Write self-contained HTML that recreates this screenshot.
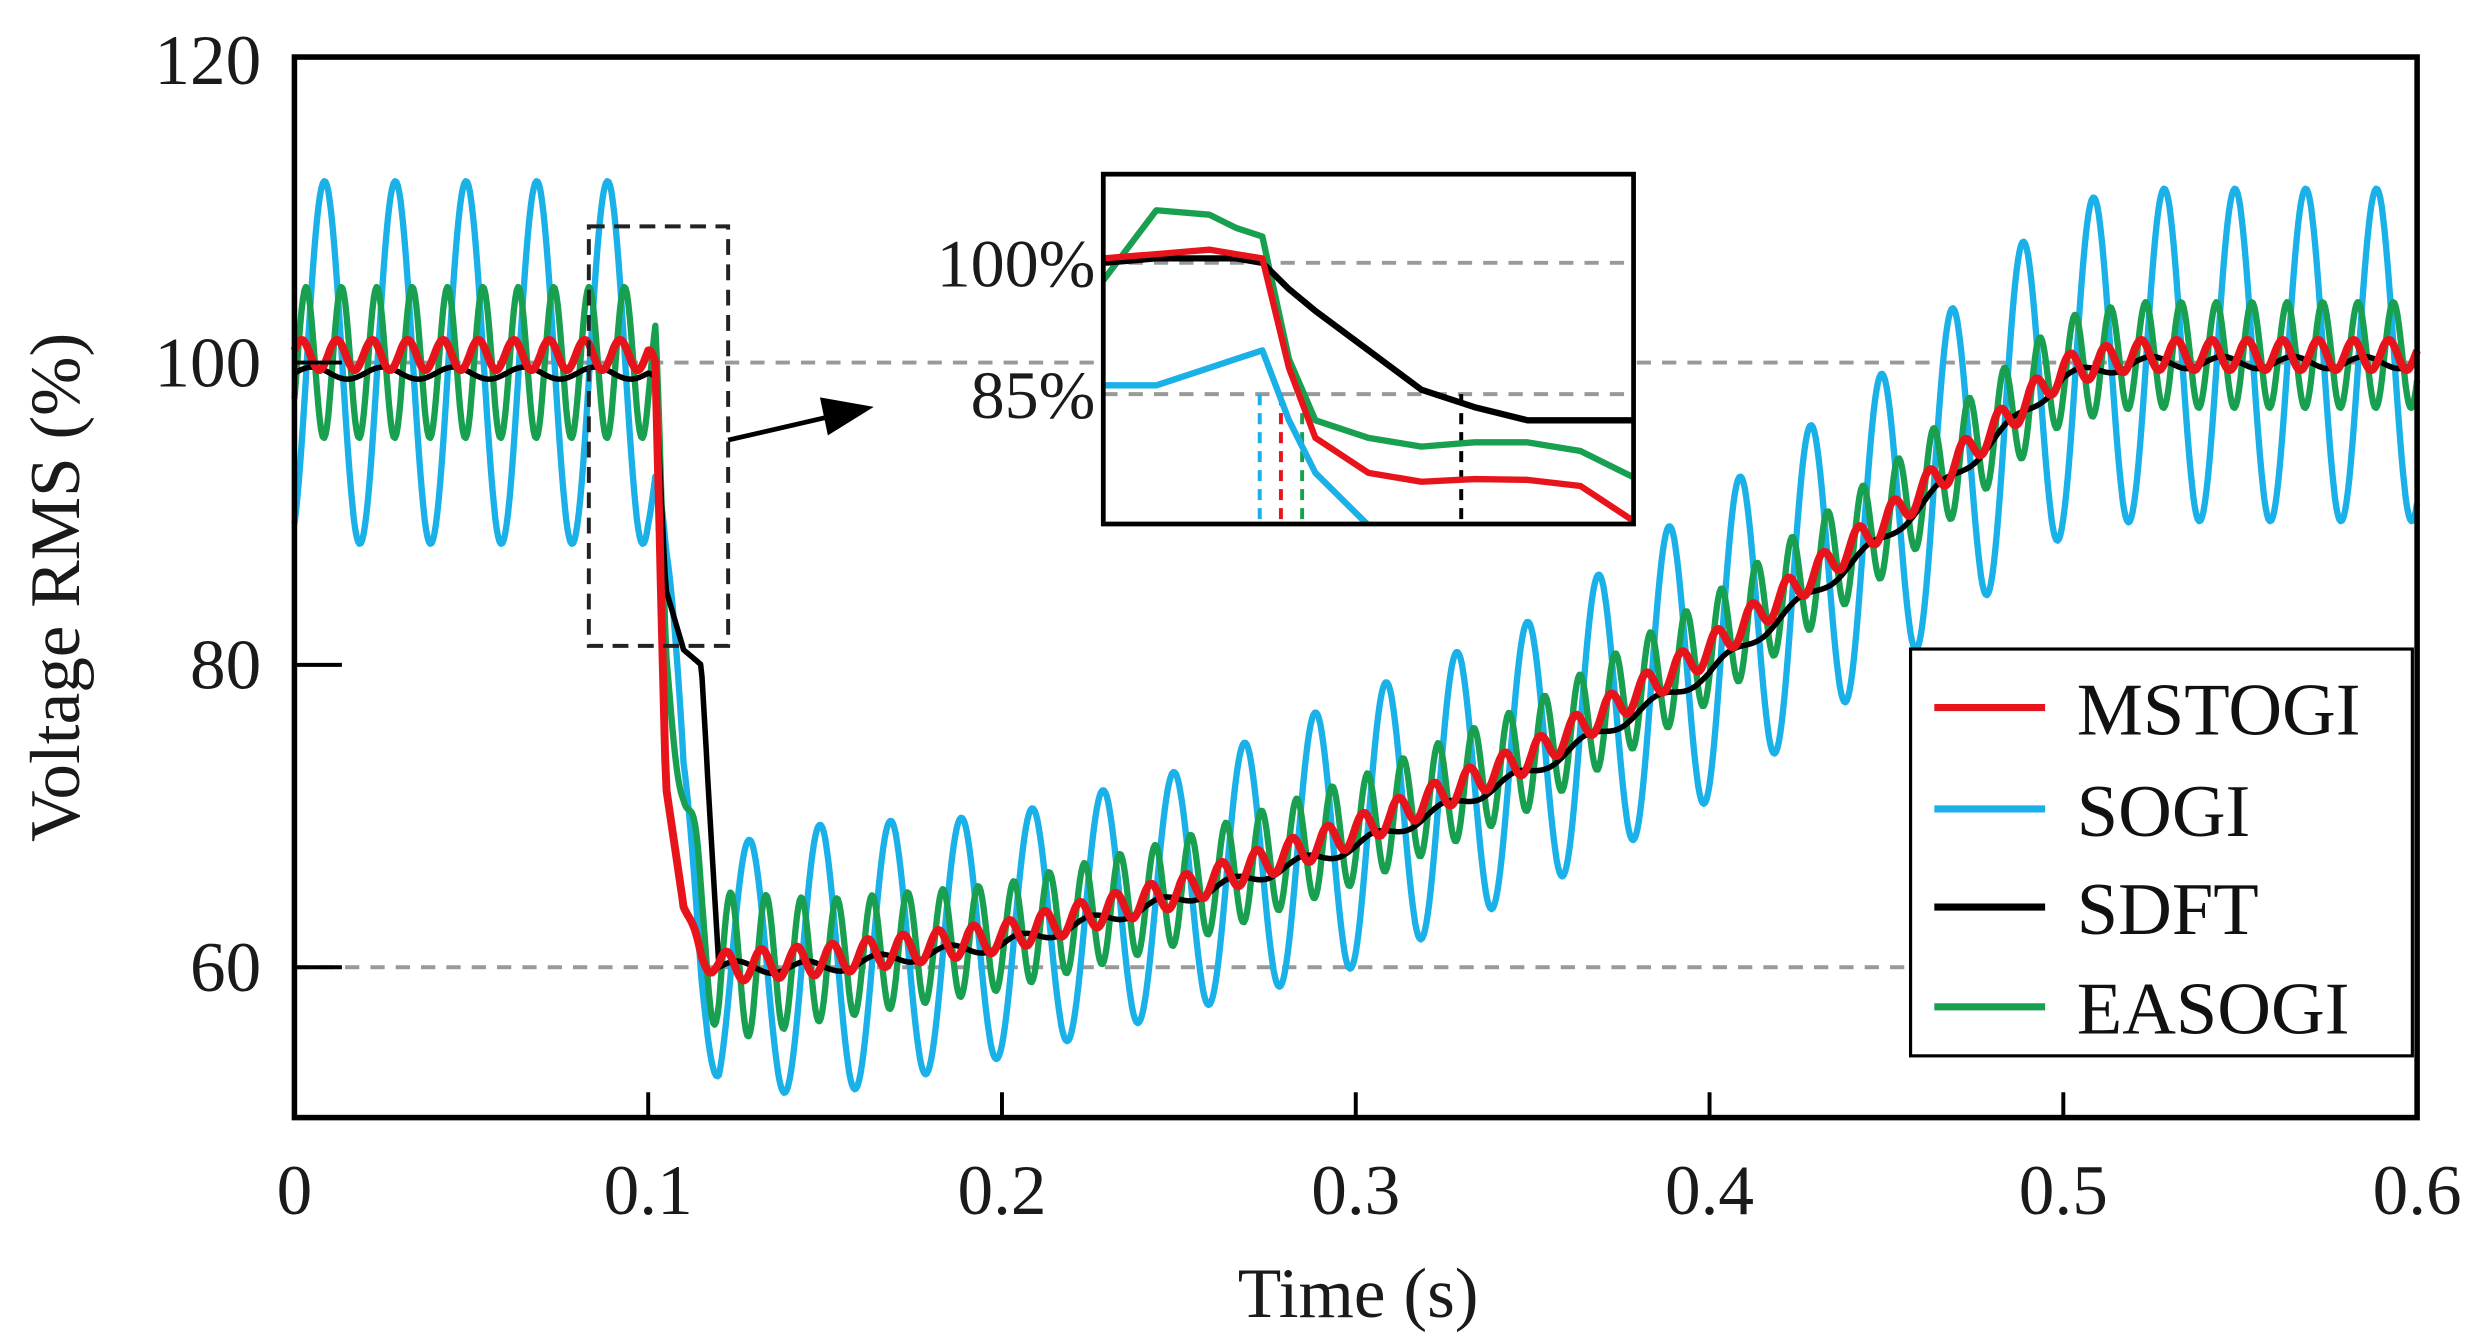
<!DOCTYPE html>
<html><head><meta charset="utf-8"><style>
html,body{margin:0;padding:0;background:#fff;}
svg{display:block;font-family:"Liberation Serif",serif;}
</style></head><body>
<svg id="chart" width="2482" height="1344" viewBox="0 0 1568 849" xmlns="http://www.w3.org/2000/svg">
<g id="grid"></g>
<g id="series"></g>
<rect x="186" y="36" width="1341" height="670" fill="none" stroke="#000" stroke-width="3.5"/>
<g id="axes"></g>
<text transform="translate(50,371) rotate(-90)" text-anchor="middle" font-size="45" fill="#1a1a1a">Voltage RMS (%)</text>
<text x="858" y="832" text-anchor="middle" font-size="45" fill="#1a1a1a">Time (s)</text>
<rect x="372" y="143" width="88" height="265" fill="none" stroke="#222" stroke-width="2.5" stroke-dasharray="10,6"/>
<line x1="460" y1="278" x2="525" y2="263" stroke="#000" stroke-width="3"/>
<polygon points="552,257 518,251 523,275" fill="#000"/>
<g id="inset"></g>
<g>
<rect x="1207" y="410" width="317" height="257" fill="#fff" stroke="#000" stroke-width="2"/>
<line x1="1222" y1="447" x2="1292" y2="447" stroke="#e8141c" stroke-width="4.5"/>
<text x="1312" y="464" font-size="47" fill="#111">MSTOGI</text>
<line x1="1222" y1="511" x2="1292" y2="511" stroke="#1ab0e8" stroke-width="4.5"/>
<text x="1312" y="528" font-size="47" fill="#111">SOGI</text>
<line x1="1222" y1="573" x2="1292" y2="573" stroke="#000" stroke-width="4.5"/>
<text x="1312" y="590" font-size="47" fill="#111">SDFT</text>
<line x1="1222" y1="636" x2="1292" y2="636" stroke="#18a050" stroke-width="4.5"/>
<text x="1312" y="653" font-size="47" fill="#111">EASOGI</text>
</g>
</svg>
<script>
// main chart data
const times   = [0, 0.1, 0.102, 0.105, 0.11, 0.115, 0.12, 0.15, 0.2, 0.25, 0.3, 0.35, 0.4, 0.45, 0.5, 0.52, 0.6];
const mstogiMean = [100.5, 100.5, 100, 72, 64, 61, 60, 60.5, 62, 65, 69, 74, 81, 89.5, 99.5, 100.5, 100.5];
const mstogiAmp  = [1, 1, 0, 0, 0, 0.8, 1, 1, 1, 1, 1, 1, 1, 1, 1, 1, 1];
const sogiMean   = [100, 100, 97, 85, 70, 62, 60, 60.5, 62, 65, 69, 74, 81, 89.5, 99.5, 100.5, 100.5];
const sogiAmp    = [12, 12, 10, 6, 4, 6, 8, 9, 8, 8, 9, 9, 10, 10, 11, 11, 11];
const sdftMean   = [99.3, 99.3, 99, 85, 81, 80, 60, 60, 61.5, 64.5, 68, 73, 79.5, 88.5, 99, 100, 100];
const sdftAmp    = [0.4, 0.4, 0, 0, 0, 0, 0.4, 0.4, 0.4, 0.4, 0.4, 0.4, 0.4, 0.4, 0.4, 0.4, 0.4];
const easogiMean = [100, 100, 99, 80, 72, 63, 60, 60.5, 62, 65, 69, 74, 81, 89.5, 99.5, 100.5, 100.5];
const easogiAmp  = [5, 5, 5, 2, 2, 4, 5, 4, 3.5, 3.5, 3.5, 3.5, 3.5, 3.5, 3.5, 3.5, 3.5];
const xTicks = [0, 0.1, 0.2, 0.3, 0.4, 0.5, 0.6];
const xTickLabels = ["0", "0.1", "0.2", "0.3", "0.4", "0.5", "0.6"];
const yTicks = [60, 80, 100, 120];
const yTickLabels = ["60", "80", "100", "120"];
const gridValues = [60, 100];
// inset data (x in inset units 0..100, y in %)
const insetX      = [0, 10, 20, 25, 30, 35, 40, 50, 60, 70, 80, 90, 100];
const insetMstogi = [100.5, 101, 101.5, 101, 100.5, 88, 80, 76, 75, 75.3, 75.2, 74.5, 70.5];
const insetSogi   = [86, 86, 88, 89, 90, 82, 76, 70, 65, 60, 55, 50, 45];
const insetSdft   = [100, 100.5, 100.5, 100.5, 100, 97, 94.5, 90, 85.5, 83.5, 82, 82, 82];
const insetEasogi = [98, 106, 105.5, 104, 103, 89, 82, 80, 79, 79.5, 79.5, 78.5, 75.5];
const insetMarks  = [29.5, 33.5, 37.5, 67.5];
const insetMarkColors = ["#1ab0e8", "#e8141c", "#18a050", "#000"];

const NS = "http://www.w3.org/2000/svg";
const X0 = 186, X1 = 1527, T0 = 0, T1 = 0.6;
const xs = t => X0 + (t - T0) / (T1 - T0) * (X1 - X0);
const ys = v => 611 - (v - 60) * 9.55;
function mk(tag, attrs, parent) { const e = document.createElementNS(NS, tag); for (const k in attrs) e.setAttribute(k, attrs[k]); parent.appendChild(e); return e; }
function interp(arrX, arrY, x) {
  for (let i = 0; i < arrX.length - 1; i++) if (x <= arrX[i + 1]) { const f = (x - arrX[i]) / (arrX[i + 1] - arrX[i]); return arrY[i] + f * (arrY[i + 1] - arrY[i]); }
  return arrY[arrY.length - 1];
}
const grid = document.getElementById("grid");
gridValues.forEach(v => {
  const l = mk("line", { x1: X0, x2: X1, y1: ys(v), y2: ys(v), stroke: "#999", "stroke-width": 2.5, "stroke-dasharray": "9,7" }, grid);
  
  
});
const axes = document.getElementById("axes");
xTicks.forEach((t, i) => {
  if (i > 0 && i < xTicks.length - 1) { const tk = mk("line", { x1: xs(t), x2: xs(t), y1: 706, y2: 690, stroke: "#000", "stroke-width": 2.5 }, axes);
    
     }
  const tx = mk("text", { x: xs(t), y: 767, "text-anchor": "middle", "font-size": 45, fill: "#1a1a1a" }, axes);
  tx.textContent = xTickLabels[i];
  
  
});
yTicks.forEach((v, i) => {
  if (v < 120) { const tk = mk("line", { x1: X0, x2: X0 + 30, y1: ys(v), y2: ys(v), stroke: "#000", "stroke-width": 2.5 }, axes);
    
     }
  const tx = mk("text", { x: 165, y: ys(v) + 15, "text-anchor": "end", "font-size": 45, fill: "#1a1a1a" }, axes);
  tx.textContent = yTickLabels[i];
  
  
});
const sg = document.getElementById("series");
function drawSeries(mean, amp, freq, phase, color, width, name) {
  let d = "";
  for (let t = 0; t <= 0.6 + 1e-9; t += 0.0004) {
    const v = interp(times, mean, t) + interp(times, amp, t) * Math.sin(2 * Math.PI * freq * t + phase);
    d += (d ? "L" : "M") + xs(t).toFixed(1) + "," + ys(v).toFixed(1);
  }
  const p = mk("path", { d: d, fill: "none", stroke: color, "stroke-width": width, "stroke-linejoin": "round" }, sg);
  
  
}
drawSeries(sogiMean, sogiAmp, 50, -1.1, "#1ab0e8", 4, "sogi-line");
drawSeries(easogiMean, easogiAmp, 100, -0.5, "#18a050", 4, "easogi-line");
drawSeries(sdftMean, sdftAmp, 50, 0, "#000", 3.5, "sdft-line");
drawSeries(mstogiMean, mstogiAmp, 100, 0.3, "#e8141c", 5, "mstogi-line");

// inset
const ig = document.getElementById("inset");
const IX0 = 697, IX1 = 1032, IY0 = 110, IY1 = 331;
const ixs = u => IX0 + u / 100 * (IX1 - IX0);
const iys = v => 166 + (100 - v) * 5.53;
mk("rect", { x: IX0, y: IY0, width: IX1 - IX0, height: IY1 - IY0, fill: "#fff" }, ig);
[100, 85].forEach(v => {
  const l = mk("line", { x1: IX0, x2: IX1, y1: iys(v), y2: iys(v), stroke: "#999", "stroke-width": 2.5, "stroke-dasharray": "9,7" }, ig);
  
  
});
insetMarks.forEach((u, i) => {
  const l = mk("line", { x1: ixs(u), x2: ixs(u), y1: iys(85), y2: IY1, stroke: insetMarkColors[i], "stroke-width": 2.5, "stroke-dasharray": "7,5" }, ig);
  
  
});
const clip = mk("clipPath", { id: "iclip" }, ig);
mk("rect", { x: IX0, y: IY0, width: IX1 - IX0, height: IY1 - IY0 }, clip);
function drawInset(vals, color, name) {
  const d = insetX.map((u, i) => (i ? "L" : "M") + ixs(u).toFixed(1) + "," + iys(vals[i]).toFixed(1)).join("");
  const p = mk("path", { d: d, fill: "none", stroke: color, "stroke-width": 4, "clip-path": "url(#iclip)", "stroke-linejoin": "round" }, ig);
  
  
}
drawInset(insetSogi, "#1ab0e8", "inset-sogi-line");
drawInset(insetEasogi, "#18a050", "inset-easogi-line");
drawInset(insetSdft, "#000", "inset-sdft-line");
drawInset(insetMstogi, "#e8141c", "inset-mstogi-line");
const fr = mk("rect", { x: IX0, y: IY0, width: IX1 - IX0, height: IY1 - IY0, fill: "none", stroke: "#000", "stroke-width": 3 }, ig);


[["100%", 100], ["85%", 85]].forEach(([s, v]) => {
  const t = mk("text", { x: 692, y: iys(v) + 15, "text-anchor": "end", "font-size": 43, fill: "#1a1a1a" }, ig);
  t.textContent = s;
  
  
});
</script>
</body></html>
